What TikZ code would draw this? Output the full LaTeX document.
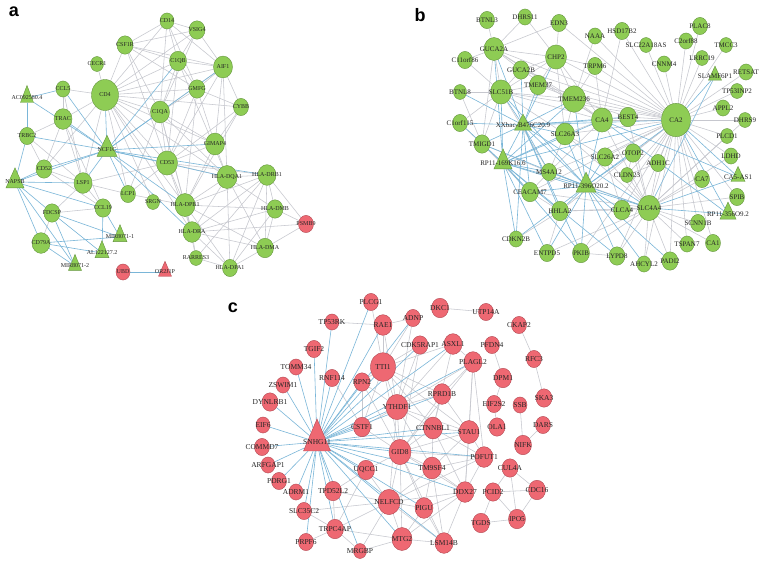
\documentclass[tikz,border=0pt]{standalone}
\usepackage{fontspec}
\setmainfont{Liberation Serif}
\newfontfamily\hvf{Liberation Sans}
\usetikzlibrary{shapes.geometric}
\definecolor{gfill}{RGB}{142,204,84}
\definecolor{gdraw}{RGB}{100,150,62}
\definecolor{rfill}{RGB}{238,104,114}
\definecolor{rdraw}{RGB}{178,72,82}
\definecolor{gline}{RGB}{198,199,206}
\definecolor{bline}{RGB}{122,182,216}
\pgfdeclarelayer{bg}
\pgfdeclarelayer{paper}
\pgfsetlayers{paper,bg,main}
\tikzset{
 gc/.style={ellipse,draw=gdraw,fill=gfill,line width=0.4pt,inner sep=0pt},
 rc/.style={ellipse,draw=rdraw,fill=rfill,line width=0.4pt,inner sep=0pt},
 gt/.style={isosceles triangle,shape border rotate=90,isosceles triangle stretches,draw=gdraw,fill=gfill,line width=0.4pt,inner sep=0pt},
 rt/.style={isosceles triangle,shape border rotate=90,isosceles triangle stretches,draw=rdraw,fill=rfill,line width=0.4pt,inner sep=0pt},
 ge/.style={draw=gline,line width=0.55pt},
 be/.style={draw=bline,line width=0.6pt},
 lbl/.style={font=\fontsize{6}{6}\selectfont,inner sep=0pt,text=black!85},
 plab/.style={font=\hvf\bfseries\fontsize{18}{18}\selectfont,inner sep=0pt}
}
\newcommand\Nc[5]{\node[#1,minimum width=#4pt,minimum height=1.15*#4pt,label={[lbl]center:#5}] (#2) at (#3) {};}
\newcommand\Nt[6]{\node[#1,minimum width=#4pt,minimum height=#5pt,label={[lbl]center:#6}] (#2) at (#3) {};}
\begin{document}
\begin{tikzpicture}[x=1pt,y=-1pt]
\begin{pgfonlayer}{paper}
\fill[white] (0,0) rectangle (770,563);
\end{pgfonlayer}
\useasboundingbox (0,0) rectangle (770,563);
\node[plab] (pa) at (14,12) {a};
\node[plab] (pb) at (420,15) {b};
\node[plab] (pc) at (233,308) {c};
% ---------------- panel a
\begin{scope}[lbl/.style={font=\fontsize{6}{6}\selectfont,inner sep=0pt,text=black!85}]
\Nc{gc}{aCD14}{167,21}{14}{CD14}
\Nc{gc}{aVSIG4}{197,30}{16}{VSIG4}
\Nc{gc}{aCSF1R}{125,45}{16}{CSF1R}
\Nc{gc}{aC1QB}{178,61}{17}{C1QB}
\Nc{gc}{aAIF1}{223,67}{19}{AIF1}
\Nc{gc}{aCECR1}{97,64}{13}{CECR1}
\Nc{gc}{aCD4}{105,95}{27}{CD4}
\Nc{gc}{aGMFG}{197,89}{16}{GMFG}
\Nc{gc}{aCYBB}{241,107}{15}{CYBB}
\Nc{gc}{aCCL5}{63,89}{14}{CCL5}
\Nt{gt}{aAC}{27,98}{13}{17}{AC092580.4}
\Nc{gc}{aTRAC}{63,119}{18}{TRAC}
\Nc{gc}{aC1QA}{160,112}{19}{C1QA}
\Nc{gc}{aTRBC2}{27,136}{15}{TRBC2}
\Nt{gt}{aNCF1C}{107,150}{20}{21}{NCF1C}
\Nc{gc}{aGIMAP4}{215,144}{19}{GIMAP4}
\Nc{gc}{aCD53}{167,163}{21}{CD53}
\Nc{gc}{aCD52}{44,169}{16}{CD52}
\Nt{gt}{aNAPSB}{15,182}{18}{20}{NAPSB}
\Nc{gc}{aLSP1}{83,183}{18}{LSP1}
\Nc{gc}{aLCP1}{128,194}{15}{LCP1}
\Nc{gc}{aSRGN}{153,202}{13}{SRGN}
\Nc{gc}{aDQA1}{227,177}{20}{HLA-DQA1}
\Nc{gc}{aDRB1}{267,175}{18}{HLA-DRB1}
\Nc{gc}{aDPB1}{185,205}{20}{HLA-DPB1}
\Nc{gc}{aDMB}{275,209}{16}{HLA-DMB}
\Nc{rc}{aPSMB9}{306,224}{15}{PSMB9}
\Nc{gc}{aFDCSP}{52,213}{16}{FDCSP}
\Nc{gc}{aCCL19}{103,208}{16}{CCL19}
\Nc{gc}{aDRA}{192,232}{18}{HLA-DRA}
\Nt{gt}{aMIR1}{120,237}{14}{17}{MIR8071-1}
\Nc{gc}{aCD79A}{41,243}{18}{CD79A}
\Nc{gc}{aDMA}{265,248}{17}{HLA-DMA}
\Nt{gt}{aAL}{102,253}{14}{17}{AL122127.2}
\Nc{gc}{aRARRES3}{196,258}{13}{RARRES3}
\Nc{gc}{aDPA1}{230,268}{15}{HLA-DPA1}
\Nt{gt}{aMIR2}{75,266}{13}{16}{MIR8071-2}
\Nc{rc}{aUBD}{123,272}{14}{UBD}
\Nt{rt}{aOR2J1P}{165,272}{13}{15}{OR2J1P}
\end{scope}
\begin{pgfonlayer}{bg}
\foreach \s/\t in {aCD14/aCSF1R,aCD14/aC1QB,aCD14/aVSIG4,aCD14/aAIF1,aCD14/aCD4,aCD14/aC1QA,aCD14/aGMFG,
aVSIG4/aC1QB,aVSIG4/aAIF1,aVSIG4/aCD4,aVSIG4/aCSF1R,aVSIG4/aC1QA,
aCSF1R/aC1QB,aCSF1R/aC1QA,aCSF1R/aAIF1,aCSF1R/aCD4,aCSF1R/aCD53,aCSF1R/aGMFG,
aC1QB/aAIF1,aC1QB/aC1QA,aC1QB/aCD4,aC1QB/aGMFG,aC1QB/aCD53,aC1QB/aDQA1,
aAIF1/aGMFG,aAIF1/aCYBB,aAIF1/aC1QA,aAIF1/aCD4,aAIF1/aCD53,aAIF1/aGIMAP4,aAIF1/aDQA1,
aCECR1/aCD4,
aCD4/aC1QA,aCD4/aGMFG,aCD4/aCD53,aCD4/aGIMAP4,aCD4/aDQA1,aCD4/aDPB1,aCD4/aCYBB,aCD4/aLSP1,aCD4/aLCP1,aCD4/aTRAC,aCD4/aCCL5,aCD4/aCD52,aCD4/aDRA,aCD4/aSRGN,
aGMFG/aC1QA,aGMFG/aCD53,aGMFG/aCYBB,aGMFG/aGIMAP4,aGMFG/aDPB1,
aCYBB/aCD53,aCYBB/aDPB1,aCYBB/aGIMAP4,
aC1QA/aCD53,aC1QA/aDQA1,aC1QA/aDPB1,aC1QA/aDRA,aC1QA/aGIMAP4,aC1QA/aLCP1,
aCCL5/aTRAC,aCCL5/aLSP1,
aTRAC/aCD52,aTRAC/aLSP1,aTRAC/aTRBC2,aTRAC/aCCL19,
aTRBC2/aCD52,aTRBC2/aLSP1,
aCD53/aLCP1,aCD53/aLSP1,aCD53/aGIMAP4,aCD53/aDQA1,aCD53/aDPB1,aCD53/aDRA,aCD53/aDRB1,
aGIMAP4/aDQA1,aGIMAP4/aDPB1,
aCD52/aLSP1,aCD52/aCCL19,
aLSP1/aLCP1,aLSP1/aCCL19,aLSP1/aFDCSP,
aLCP1/aDPB1,aFDCSP/aCD79A,aFDCSP/aCCL19,
aDQA1/aDRB1,aDQA1/aDPB1,aDQA1/aDMB,aDQA1/aDRA,aDQA1/aDMA,aDQA1/aDPA1,
aDRB1/aDPB1,aDRB1/aDMB,aDRB1/aDRA,aDRB1/aDMA,aDRB1/aDPA1,aDRB1/aPSMB9,aDRB1/aRARRES3,
aDPB1/aDMB,aDPB1/aDRA,aDPB1/aDMA,aDPB1/aDPA1,aDPB1/aRARRES3,
aDMB/aDRA,aDMB/aDMA,aDMB/aDPA1,aDMB/aPSMB9,
aDRA/aDMA,aDRA/aDPA1,aDRA/aRARRES3,aDRA/aPSMB9,
aDMA/aDPA1,aDMA/aPSMB9,aRARRES3/aDPA1}
 \draw[ge] (\s) -- (\t);
\foreach \s/\t in {aNCF1C/aCD4,aNCF1C/aC1QA,aNCF1C/aC1QB,aNCF1C/aCD53,aNCF1C/aGIMAP4,aNCF1C/aDQA1,aNCF1C/aDPB1,aNCF1C/aTRAC,aNCF1C/aTRBC2,aNCF1C/aNAPSB,aNCF1C/aCD52,aNCF1C/aLSP1,aNCF1C/aLCP1,aNCF1C/aAIF1,aNCF1C/aDRA,aNCF1C/aCCL5,aNCF1C/aDRB1,
aNAPSB/aTRBC2,aNAPSB/aCD52,aNAPSB/aLSP1,aNAPSB/aCCL19,aNAPSB/aFDCSP,aNAPSB/aCD79A,aNAPSB/aMIR2,
aAC/aCCL5,aAC/aTRBC2,aAC/aNCF1C,
aMIR1/aCCL19,aMIR1/aFDCSP,aMIR1/aCD79A,
aAL/aFDCSP,aAL/aCD79A,aAL/aCCL19,
aMIR2/aFDCSP,aMIR2/aCD79A,
aUBD/aOR2J1P}
 \draw[be] (\s) -- (\t);
\end{pgfonlayer}
% ---------------- panel b
\begin{scope}[lbl/.style={font=\fontsize{7}{7}\selectfont,inner sep=0pt,text=black!85}]
\Nc{gc}{bBTNL3}{487,20}{15}{BTNL3}
\Nc{gc}{bDHRS11}{525,17}{14}{DHRS11}
\Nc{gc}{bEDN3}{559,23}{15}{EDN3}
\Nc{gc}{bHSD17B2}{622,31}{15}{HSD17B2}
\Nc{gc}{bNAAA}{595,36}{14}{NAAA}
\Nc{gc}{bPLAC8}{700,26}{15}{PLAC8}
\Nc{gc}{bC2orf88}{686,41}{14}{C2orf88}
\Nc{gc}{bTMCC3}{726,45}{13}{TMCC3}
\Nc{gc}{bSLC22}{646,45}{13}{SLC22A18AS}
\Nc{gc}{bC11orf86}{465,60}{15}{C11orf86}
\Nc{gc}{bGUCA2A}{494,49}{20}{GUCA2A}
\Nc{gc}{bCHP2}{556,57}{21}{CHP2}
\Nc{gc}{bCNNM4}{664,64}{14}{CNNM4}
\Nc{gc}{bLRRC19}{702,58}{13}{LRRC19}
\Nc{gc}{bTRPM6}{595,66}{15}{TRPM6}
\Nc{gc}{bGUCA2B}{521,70}{16}{GUCA2B}
\Nt{gt}{bSLAMF}{715,76}{13}{14}{SLAMF6P1}
\Nc{gc}{bRETSAT}{746,72}{14}{RETSAT}
\Nc{gc}{bBTNL8}{460,92}{13}{BTNL8}
\Nc{gc}{bSLC51B}{501,92}{21}{SLC51B}
\Nc{gc}{bTMEM37}{538,85}{17}{TMEM37}
\Nc{gc}{bTMEM236}{574,99}{23}{TMEM236}
\Nc{gc}{bTP53INP2}{737,91}{13}{TP53INP2}
\Nc{gc}{bAPPL2}{723,108}{14}{APPL2}
\Nc{gc}{bCA4}{602,120}{21}{CA4}
\Nc{gc}{bBEST4}{628,117}{17}{BEST4}
\Nc{gc}{bCA2}{676,120}{29}{CA2}
\Nc{gc}{bDHRS9}{745,120}{13}{DHRS9}
\Nc{gc}{bC1orf115}{460,123}{15}{C1orf115}
\Nt{gt}{bXX}{523,125}{17}{16}{XXbac-B476C20.9}
\Nc{gc}{bSLC26A3}{565,134}{19}{SLC26A3}
\Nc{gc}{bPLCD1}{727,136}{13}{PLCD1}
\Nc{gc}{bTMIGD1}{482,144}{16}{TMIGD1}
\Nt{gt}{b169}{503,163}{18}{20}{RP11-169K16.6}
\Nc{gc}{bMS4A12}{549,172}{15}{MS4A12}
\Nc{gc}{bSLC26A2}{605,157}{16}{SLC26A2}
\Nc{gc}{bOTOP2}{633,153}{16}{OTOP2}
\Nc{gc}{bLDHD}{731,156}{14}{LDHD}
\Nc{gc}{bADH1C}{658,163}{15}{ADH1C}
\Nt{gt}{b396}{586,186}{20}{20}{RP11-396O20.2}
\Nc{gc}{bCEACAM7}{530,192}{17}{CEACAM7}
\Nc{gc}{bCLDN23}{627,175}{13}{CLDN23}
\Nc{gc}{bCA7}{702,179}{15}{CA7}
\Nt{gt}{bCA5AS1}{738,177}{14}{15}{CA5-AS1}
\Nc{gc}{bSLC4A4}{649,208}{22}{SLC4A4}
\Nc{gc}{bCLCA4}{622,210}{17}{CLCA4}
\Nc{gc}{bHHLA2}{560,211}{17}{HHLA2}
\Nc{gc}{bSPIB}{737,197}{15}{SPIB}
\Nt{gt}{b356}{728,214}{16}{17}{RP11-356O9.2}
\Nc{gc}{bSCNN1B}{698,223}{15}{SCNN1B}
\Nc{gc}{bCDKN2B}{516,239}{14}{CDKN2B}
\Nc{gc}{bENTPD5}{547,253}{15}{ENTPD5}
\Nc{gc}{bPKIB}{581,253}{17}{PKIB}
\Nc{gc}{bTSPAN7}{687,244}{14}{TSPAN7}
\Nc{gc}{bCA1}{713,243}{15}{CA1}
\Nc{gc}{bLYPD8}{617,256}{16}{LYPD8}
\Nc{gc}{bAHCYL2}{644,264}{14}{AHCYL2}
\Nc{gc}{bPADI2}{670,261}{16}{PADI2}
\end{scope}
\begin{pgfonlayer}{bg}
\foreach \t in {bNAAA,bHSD17B2,bSLC22,bCNNM4,bC2orf88,bPLAC8,bLRRC19,bTMCC3,bRETSAT,bTP53INP2,bAPPL2,bDHRS9,bPLCD1,bLDHD,bCA7,bSPIB,bSCNN1B,bCA1,bTSPAN7,bPADI2,bAHCYL2,bSLC4A4,bADH1C,bOTOP2,bCLDN23,bSLC26A2,bBEST4,bCA4,bTRPM6,bTMEM236,bCHP2,bEDN3,bSLC51B,bSLC26A3,bMS4A12,bCLCA4,bPKIB,bLYPD8,bHHLA2,bGUCA2A,bGUCA2B,bTMEM37,bCEACAM7}
 \draw[ge] (bCA2) -- (\t);
\foreach \t in {bCA7,bSPIB,bSCNN1B,bTSPAN7,bPADI2,bAHCYL2,bLYPD8,bCLCA4,bCLDN23,bADH1C,bOTOP2,bSLC26A2,bPKIB,bCA1,bMS4A12,bCA4,bHHLA2,bCEACAM7,bLDHD,bPLCD1,bDHRS9,bSLC26A3,bBEST4,bENTPD5}
 \draw[ge] (bSLC4A4) -- (\t);
\foreach \s/\t in {bBTNL3/bGUCA2A,bDHRS11/bGUCA2A,bDHRS11/bCHP2,bEDN3/bCHP2,bEDN3/bGUCA2A,bC11orf86/bGUCA2A,bC11orf86/bSLC51B,bGUCA2A/bSLC51B,bGUCA2A/bCHP2,bGUCA2A/bGUCA2B,bGUCA2A/bTMEM236,bGUCA2A/bTMIGD1,bGUCA2A/bCA4,bGUCA2B/bSLC51B,bGUCA2B/bCHP2,bCHP2/bTMEM236,bCHP2/bSLC26A3,bCHP2/bCA4,bCHP2/bTMEM37,bCHP2/bSLC51B,bCHP2/bTRPM6,bBTNL8/bSLC51B,bBTNL8/bTMIGD1,bC1orf115/bSLC51B,bC1orf115/bTMIGD1,bSLC51B/bTMEM37,bSLC51B/bTMEM236,bSLC51B/bTMIGD1,bSLC51B/bCA4,bSLC51B/bSLC26A3,bSLC51B/bMS4A12,bTMEM37/bTMEM236,bTMEM236/bCA4,bTMEM236/bSLC26A3,bTMEM236/bBEST4,bTRPM6/bTMEM236,bTRPM6/bCA4,bNAAA/bTMEM236,bHSD17B2/bCA4,bCA4/bBEST4,bCA4/bSLC26A3,bCA4/bMS4A12,bSLC26A3/bMS4A12,bSLC26A3/bSLC26A2,bMS4A12/bCEACAM7,bCEACAM7/bHHLA2,bHHLA2/bCLCA4,bCLCA4/bSLC26A2,bPKIB/bLYPD8,bCDKN2B/bHHLA2,bENTPD5/bHHLA2,bTMIGD1/bMS4A12,bSLC26A2/bOTOP2,bOTOP2/bCLDN23,bCLDN23/bADH1C,bTMIGD1/bCEACAM7,bGUCA2B/bCA4}
 \draw[ge] (\s) -- (\t);
\foreach \t in {bSLC51B,bGUCA2A,bGUCA2B,bTMEM37,bTMEM236,bCA4,bSLC26A3,bTMIGD1,bC1orf115,bMS4A12,bCEACAM7,bHHLA2,bCDKN2B,bBTNL8,bCHP2,bCA2,bPKIB,bSLC4A4,bBEST4}
 \draw[be] (bXX) -- (\t);
\foreach \t in {bTMIGD1,bSLC51B,bCEACAM7,bCDKN2B,bENTPD5,bHHLA2,bMS4A12,bCA4,bTMEM236,bGUCA2A,bC1orf115,bSLC26A3,bPKIB,bXX,bCA2,bSLC4A4,bLYPD8}
 \draw[be] (b169) -- (\t);
\foreach \t in {bSLC4A4,bPKIB,bLYPD8,bCLCA4,bSLC26A2,bCA4,bMS4A12,bCEACAM7,bHHLA2,bTMEM236,bSLC26A3,bCA2,bENTPD5,bAHCYL2,bPADI2,bTMIGD1,bSLC51B,bCDKN2B,bXX,b169,bOTOP2}
 \draw[be] (b396) -- (\t);
\foreach \s/\t in {bCA5AS1/bCA2,bCA5AS1/bSLC4A4,bCA5AS1/bCA4,b356/bSLC4A4,b356/bCA2,b356/bCA4,bSLAMF/bCA2,bSLAMF/bSLC4A4}
 \draw[be] (\s) -- (\t);
\end{pgfonlayer}
% ---------------- panel c
\begin{scope}[lbl/.style={font=\fontsize{7.5}{7.5}\selectfont,inner sep=0pt,text=black!85}]
\Nc{rc}{cPLCG1}{371,302}{15}{PLCG1}
\Nc{rc}{cDKC1}{440,308}{17}{DKC1}
\Nc{rc}{cUTP14A}{486,312}{15}{UTP14A}
\Nc{rc}{cADNP}{413,318}{15}{ADNP}
\Nc{rc}{cTP53RK}{332,322}{14}{TP53RK}
\Nc{rc}{cRAE1}{383,325}{18}{RAE1}
\Nc{rc}{cCKAP2}{519,325}{15}{CKAP2}
\Nc{rc}{cCDK5}{420,345}{16}{CDK5RAP1}
\Nc{rc}{cASXL1}{453,344}{18}{ASXL1}
\Nc{rc}{cPFDN4}{492,345}{15}{PFDN4}
\Nc{rc}{cTGIF2}{314,349}{15}{TGIF2}
\Nc{rc}{cRFC3}{534,359}{15}{RFC3}
\Nc{rc}{cPLAGL2}{473,362}{18}{PLAGL2}
\Nc{rc}{cTOMM34}{296,367}{14}{TOMM34}
\Nc{rc}{cTTI1}{383,367}{25}{TTI1}
\Nc{rc}{cRNF114}{332,378}{15}{RNF114}
\Nc{rc}{cRPN2}{362,382}{16}{RPN2}
\Nc{rc}{cZSWIM1}{283,385}{14}{ZSWIM1}
\Nc{rc}{cDPM1}{503,378}{17}{DPM1}
\Nc{rc}{cSKA3}{544,398}{16}{SKA3}
\Nc{rc}{cYTHDF1}{397,407}{22}{YTHDF1}
\Nc{rc}{cRPRD1B}{442,394}{18}{RPRD1B}
\Nc{rc}{cDYNLRB1}{270,402}{16}{DYNLRB1}
\Nc{rc}{cEIF2S2}{494,404}{15}{EIF2S2}
\Nc{rc}{cSSB}{520,405}{14}{SSB}
\Nc{rc}{cDARS}{543,425}{15}{DARS}
\Nc{rc}{cEIF6}{263,425}{14}{EIF6}
\Nc{rc}{cCSTF1}{362,427}{17}{CSTF1}
\Nc{rc}{cCTNNBL1}{433,428}{19}{CTNNBL1}
\Nc{rc}{cSTAU1}{469,432}{20}{STAU1}
\Nc{rc}{cOLA1}{497,427}{16}{OLA1}
\Nc{rc}{cNIFK}{523,445}{17}{NIFK}
\Nc{rc}{cCOMMD7}{262,447}{15}{COMMD7}
\Nc{rc}{cGID8}{400,452}{22}{GID8}
\Nc{rc}{cARFGAP1}{268,465}{14}{ARFGAP1}
\Nc{rc}{cPDRG1}{279,481}{15}{PDRG1}
\Nc{rc}{cPOFUT1}{484,457}{18}{POFUT1}
\Nc{rc}{cTM9SF4}{432,468}{19}{TM9SF4}
\Nc{rc}{cCUL4A}{510,468}{16}{CUL4A}
\Nc{rc}{cUQCC1}{366,470}{17}{UQCC1}
\Nc{rc}{cADRM1}{296,492}{14}{ADRM1}
\Nc{rc}{cTPD52L2}{333,491}{17}{TPD52L2}
\Nc{rc}{cNELFCD}{389,502}{22}{NELFCD}
\Nc{rc}{cDDX27}{465,492}{18}{DDX27}
\Nc{rc}{cPCID2}{493,492}{16}{PCID2}
\Nc{rc}{cCDC16}{537,490}{17}{CDC16}
\Nc{rc}{cSLC35C2}{304,511}{15}{SLC35C2}
\Nc{rc}{cPIGU}{424,508}{18}{PIGU}
\Nc{rc}{cTRPC4AP}{335,529}{17}{TRPC4AP}
\Nc{rc}{cTGDS}{481,523}{17}{TGDS}
\Nc{rc}{cIPO5}{517,519}{17}{IPO5}
\Nc{rc}{cMTG2}{402,539}{20}{MTG2}
\Nc{rc}{cPRPF6}{306,542}{15}{PRPF6}
\Nc{rc}{cLSM14B}{444,543}{18}{LSM14B}
\Nc{rc}{cMRGBP}{360,551}{13}{MRGBP}
\Nt{rt}{cSNHG11}{317,442}{27}{32}{SNHG11}
\end{scope}
\begin{pgfonlayer}{bg}
\foreach \s/\t in {cTP53RK/cRAE1,cPLCG1/cTTI1,cRAE1/cTTI1,cRAE1/cYTHDF1,cRAE1/cADNP,cADNP/cTTI1,cADNP/cYTHDF1,cCDK5/cTTI1,cCDK5/cYTHDF1,cCDK5/cGID8,cASXL1/cTTI1,cASXL1/cYTHDF1,cASXL1/cPLAGL2,cASXL1/cCTNNBL1,cPLAGL2/cYTHDF1,cPLAGL2/cSTAU1,cPLAGL2/cPOFUT1,cPLAGL2/cDDX27,cPLAGL2/cGID8,cPLAGL2/cRPRD1B,cTTI1/cYTHDF1,cTTI1/cRPN2,cTTI1/cGID8,cTTI1/cCTNNBL1,cTTI1/cCSTF1,cTTI1/cRPRD1B,cTTI1/cSTAU1,cRPN2/cYTHDF1,cRPN2/cCSTF1,cRPN2/cGID8,cRNF114/cCSTF1,cYTHDF1/cGID8,cYTHDF1/cCSTF1,cYTHDF1/cCTNNBL1,cYTHDF1/cSTAU1,cYTHDF1/cRPRD1B,cYTHDF1/cNELFCD,cYTHDF1/cTM9SF4,cRPRD1B/cCTNNBL1,cRPRD1B/cSTAU1,cRPRD1B/cGID8,cCTNNBL1/cSTAU1,cCTNNBL1/cGID8,cCTNNBL1/cTM9SF4,cCTNNBL1/cPOFUT1,cCTNNBL1/cDDX27,cSTAU1/cPOFUT1,cSTAU1/cGID8,cSTAU1/cTM9SF4,cSTAU1/cDDX27,cGID8/cTM9SF4,cGID8/cNELFCD,cGID8/cUQCC1,cGID8/cCSTF1,cGID8/cPOFUT1,cGID8/cDDX27,cGID8/cPIGU,cGID8/cMTG2,cGID8/cLSM14B,cPOFUT1/cTM9SF4,cPOFUT1/cDDX27,cPOFUT1/cNELFCD,cTM9SF4/cNELFCD,cTM9SF4/cDDX27,cTM9SF4/cPIGU,cTM9SF4/cLSM14B,cNELFCD/cUQCC1,cNELFCD/cPIGU,cNELFCD/cMTG2,cNELFCD/cDDX27,cNELFCD/cLSM14B,cNELFCD/cTRPC4AP,cNELFCD/cTPD52L2,cNELFCD/cSLC35C2,cNELFCD/cMRGBP,cDDX27/cPIGU,cDDX27/cLSM14B,cDDX27/cMTG2,cPIGU/cMTG2,cPIGU/cLSM14B,cMTG2/cLSM14B,cMTG2/cTRPC4AP,cMTG2/cMRGBP,cTRPC4AP/cPRPF6,cTRPC4AP/cTPD52L2,cTRPC4AP/cSLC35C2,cTRPC4AP/cMRGBP,cTRPC4AP/cUQCC1,cTPD52L2/cUQCC1,
cDKC1/cUTP14A,cCKAP2/cRFC3,cRFC3/cSKA3,cPFDN4/cDPM1,cDPM1/cEIF2S2,cEIF2S2/cOLA1,cSSB/cNIFK,cDARS/cNIFK,cCUL4A/cPCID2,cCUL4A/cCDC16,cCUL4A/cIPO5,cPCID2/cCDC16,cPCID2/cIPO5,cPCID2/cTGDS,cCDC16/cIPO5,cTGDS/cIPO5}
 \draw[ge] (\s) -- (\t);
\foreach \t in {cPLCG1,cTP53RK,cRAE1,cTGIF2,cTOMM34,cZSWIM1,cDYNLRB1,cEIF6,cCOMMD7,cARFGAP1,cPDRG1,cADRM1,cSLC35C2,cPRPF6,cTRPC4AP,cTPD52L2,cUQCC1,cCSTF1,cRNF114,cRPN2,cTTI1,cYTHDF1,cCTNNBL1,cSTAU1,cGID8,cNELFCD,cTM9SF4,cPOFUT1,cPLAGL2,cADNP,cCDK5,cASXL1,cRPRD1B,cDDX27,cPIGU,cMTG2,cLSM14B,cMRGBP}
 \draw[be] (cSNHG11) -- (\t);
\end{pgfonlayer}
\end{tikzpicture}
\end{document}
